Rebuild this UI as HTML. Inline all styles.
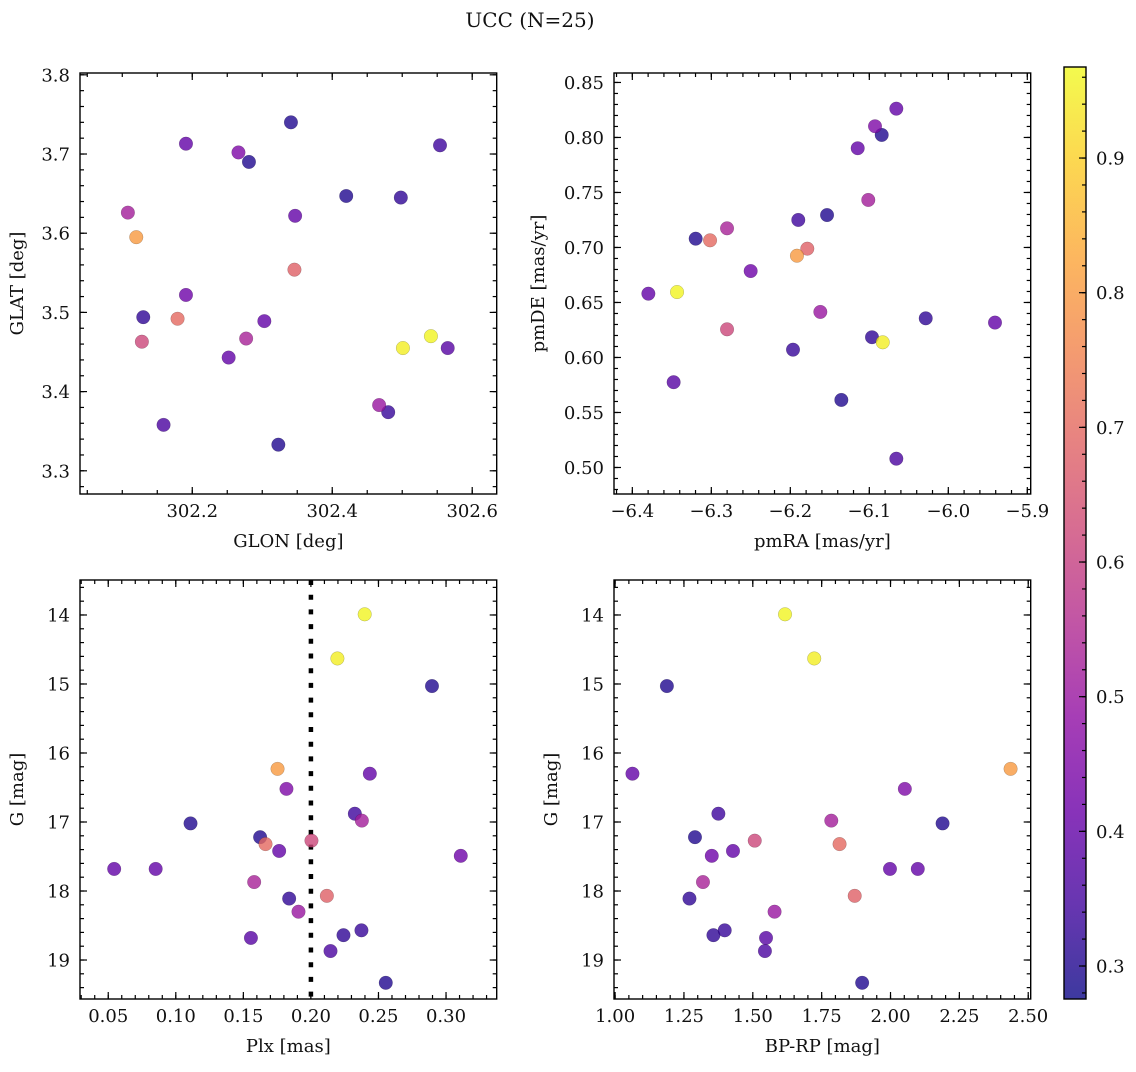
<!DOCTYPE html>
<html><head><meta charset="utf-8">
<style>
html,body{margin:0;padding:0;background:#fff;}
svg text{font-family:"DejaVu Serif","Liberation Serif",serif;fill:#111;}
</style></head>
<body>
<svg id="fig" width="1136" height="1067" viewBox="0 0 1136 1067" xmlns="http://www.w3.org/2000/svg">
<defs>
<linearGradient id="plasmaGrad" x1="0" y1="1" x2="0" y2="0"></linearGradient>
</defs>
<text x="530" y="27" font-size="20" text-anchor="middle">UCC (N=25)</text>
</svg>
<script>
// ---- data (one entry per star) ----
const glon = [302.541,302.501,302.341,302.120,302.191,302.266,302.281,302.554,302.108,302.420,302.179,302.128,302.347,302.191,302.303,302.252,302.277,302.346,302.498,302.467,302.565,302.130,302.480,302.159,302.323];
const glat = [3.470,3.455,3.740,3.595,3.713,3.702,3.690,3.711,3.626,3.647,3.492,3.463,3.622,3.522,3.489,3.443,3.467,3.554,3.645,3.383,3.455,3.494,3.374,3.358,3.333];
const pmra = [-6.3434,-6.0830,-6.0843,-6.1916,-6.0658,-6.0928,-6.1535,-6.1899,-6.1013,-6.3198,-6.3016,-6.2801,-6.1147,-6.2502,-6.3797,-5.9409,-6.2801,-6.1785,-6.0286,-6.1620,-6.3477,-6.0966,-6.1966,-6.0658,-6.1354];
const pmde = [0.6595,0.6138,0.8023,0.6925,0.8262,0.8102,0.7295,0.7250,0.7432,0.7080,0.7065,0.6256,0.7902,0.6786,0.6580,0.6317,0.7174,0.6989,0.6356,0.6414,0.5775,0.6184,0.6071,0.5080,0.5614];
const plx = [0.2398,0.2196,0.2896,0.1753,0.2436,0.1819,0.1109,0.2325,0.2377,0.1624,0.1664,0.2004,0.1765,0.3109,0.0544,0.0851,0.1580,0.2118,0.1839,0.1908,0.1556,0.2241,0.2374,0.2145,0.2554];
const gmag = [13.99,14.63,15.03,16.23,16.30,16.52,17.02,16.88,16.98,17.22,17.32,17.27,17.42,17.49,17.68,17.68,17.87,18.07,18.11,18.30,18.68,18.64,18.57,18.87,19.33];
const bprp = [1.617,1.723,1.188,2.436,1.063,2.052,2.189,1.375,1.785,1.290,1.815,1.507,1.428,1.351,1.998,2.099,1.319,1.870,1.270,1.579,1.548,1.357,1.398,1.544,1.897];
const cval = [0.96,0.95,0.30,0.80,0.40,0.45,0.30,0.34,0.52,0.30,0.70,0.62,0.40,0.42,0.40,0.40,0.53,0.68,0.32,0.50,0.38,0.32,0.33,0.36,0.30];
const plxMean = [0.2];
const cbTicks = [0.3,0.4,0.5,0.6,0.7,0.8,0.9];

const NS="http://www.w3.org/2000/svg";
const svg=document.getElementById('fig');
function mk(tag,attrs,parent){const e=document.createElementNS(NS,tag);for(const k in attrs)e.setAttribute(k,attrs[k]);(parent||svg).appendChild(e);return e;}

const plasma=[[13,8,135],[65,4,157],[106,0,168],[143,13,164],[177,42,144],[204,71,120],[225,100,98],[242,132,75],[252,166,54],[252,206,37],[240,249,33]];
const CMIN=0.2755,CMAX=0.9676;
function cmap(v){let t=(v-CMIN)/(CMAX-CMIN);t=Math.max(0,Math.min(1,t));const f=t*10;const i=Math.min(9,Math.floor(f));const r=f-i;const a=plasma[i],b=plasma[i+1];
 return 'rgb('+[0,1,2].map(k=>Math.round(a[k]+(b[k]-a[k])*r)).join(',')+')';}

function fmt(v,d){const s=v.toFixed(d);return s.replace('-','\u2212');}
const FS=18;

function panel(o){
  const g=mk('g',{});
  
  
  const sx=v=>o.x0+(v-o.xmin)/(o.xmax-o.xmin)*(o.x1-o.x0);
  const sy=o.yinv? (v=>o.y0+(v-o.ymin)/(o.ymax-o.ymin)*(o.y1-o.y0)) : (v=>o.y1-(v-o.ymin)/(o.ymax-o.ymin)*(o.y1-o.y0));
  const eps=1e-9;
  function ticksX(step,len,major){
    const start=Math.ceil((o.xmin)/step-eps);
    for(let k=start;k*step<=o.xmax+eps;k++){const v=k*step;const X=sx(v);
      const t1=mk('line',{x1:X,x2:X,y1:o.y1,y2:o.y1-len,stroke:'#000','stroke-width':1.2},g);
      
      const t2=mk('line',{x1:X,x2:X,y1:o.y0,y2:o.y0+len,stroke:'#000','stroke-width':1.2},g);
      
      if(major){const tl=mk('text',{x:X,y:o.y1+23,'font-size':FS,'text-anchor':'middle'},g);tl.textContent=fmt(v,o.xd);
        }
    }
  }
  function ticksY(step,len,major){
    const start=Math.ceil((o.ymin)/step-eps);
    for(let k=start;k*step<=o.ymax+eps;k++){const v=k*step;const Y=sy(v);
      const t1=mk('line',{x1:o.x0,x2:o.x0+len,y1:Y,y2:Y,stroke:'#000','stroke-width':1.2},g);
      
      const t2=mk('line',{x1:o.x1,x2:o.x1-len,y1:Y,y2:Y,stroke:'#000','stroke-width':1.2},g);
      
      if(major){const tl=mk('text',{x:o.x0-10,y:Y+6.5,'font-size':FS,'text-anchor':'end'},g);tl.textContent=fmt(v,o.yd);
        }
    }
  }
  ticksX(o.xmin_step,4,false);ticksX(o.xmaj,7,true);
  ticksY(o.ymin_step,4,false);ticksY(o.ymaj,7,true);
  if(o.vline!==undefined){
    const X=sx(o.vline);
    const vl=mk('line',{x1:X,x2:X,y1:o.y0,y2:o.y1,stroke:'#000','stroke-width':4.5,'stroke-dasharray':'5 9.7'},g);
    
  }
  const order=o.xs.map((_,i)=>i).sort((a,b)=>cval[a]-cval[b]);
  for(const i of order){
    const c=mk('circle',{cx:sx(o.xs[i]),cy:sy(o.ys[i]),r:6.8,fill:cmap(cval[i]),'fill-opacity':0.8,stroke:'rgba(0,0,0,0.35)','stroke-width':0.4},g);
    
    
  }
  const fr=mk('rect',{x:o.x0,y:o.y0,width:o.x1-o.x0,height:o.y1-o.y0,fill:'none',stroke:'#000','stroke-width':1.4},g);
  
  const xl=mk('text',{x:(o.x0+o.x1)/2,y:o.y1+53,'font-size':FS,'text-anchor':'middle'},g);xl.textContent=o.xlabel;
  
  const yx=o.x0-o.ylabOff, yy=(o.y0+o.y1)/2;
  const yl=mk('text',{x:yx,y:yy,'font-size':FS,'text-anchor':'middle',transform:'rotate(-90 '+yx+' '+yy+')'},g);yl.textContent=o.ylabel;
  
}

panel({name:'glon-glat-panel',x0:80,x1:496.7,y0:73,y1:494,xmin:302.0396,xmax:302.635,ymin:3.2707,ymax:3.8023,
  xmaj:0.2,xmin_step:0.05,ymaj:0.1,ymin_step:0.02,xd:1,yd:1,xs:glon,ys:glat,xlabel:'GLON [deg]',ylabel:'GLAT [deg]',ylabOff:57});
panel({name:'pm-panel',x0:614,x1:1030.7,y0:73,y1:494,xmin:-6.4232,xmax:-5.8957,ymin:0.4759,ymax:0.8586,
  xmaj:0.1,xmin_step:0.02,ymaj:0.05,ymin_step:0.01,xd:1,yd:2,xs:pmra,ys:pmde,xlabel:'pmRA [mas/yr]',ylabel:'pmDE [mas/yr]',ylabOff:70});
panel({name:'plx-g-panel',x0:80,x1:496.7,y0:580,y1:999,xmin:0.0291,xmax:0.3375,ymin:13.493,ymax:19.565,yinv:true,
  xmaj:0.05,xmin_step:0.01,ymaj:1,ymin_step:0.2,xd:2,yd:0,xs:plx,ys:gmag,xlabel:'Plx [mas]',ylabel:'G [mag]',ylabOff:57,vline:plxMean[0]});
panel({name:'bprp-g-panel',x0:614,x1:1030.7,y0:580,y1:999,xmin:0.996,xmax:2.509,ymin:13.493,ymax:19.565,yinv:true,
  xmaj:0.25,xmin_step:0.05,ymaj:1,ymin_step:0.2,xd:2,yd:0,xs:bprp,ys:gmag,xlabel:'BP-RP [mag]',ylabel:'G [mag]',ylabOff:57});

// colorbar
const grad=document.getElementById('plasmaGrad');
plasma.forEach((c,i)=>{mk('stop',{offset:(i/10).toFixed(2),'stop-color':'rgb('+c.join(',')+')','stop-opacity':0.8},grad);});
const cb=mk('g',{});


const CBX=1064,CBW=22,CBY0=67,CBY1=999;
mk('rect',{x:CBX,y:CBY0,width:CBW,height:CBY1-CBY0,fill:'url(#plasmaGrad)'},cb);
const cy=v=>CBY1-(v-CMIN)/(CMAX-CMIN)*(CBY1-CBY0);
for(let k=Math.ceil(CMIN/0.02);k*0.02<=CMAX;k++){const Y=cy(k*0.02);
  const t=mk('line',{x1:CBX+CBW,x2:CBX+CBW-4,y1:Y,y2:Y,stroke:'#000','stroke-width':1.2},cb);
  }
cbTicks.forEach(v=>{const Y=cy(v);
  const t=mk('line',{x1:CBX+CBW,x2:CBX+CBW-7,y1:Y,y2:Y,stroke:'#000','stroke-width':1.2},cb);
  
  const l=mk('text',{x:CBX+CBW+10,y:Y+6.5,'font-size':FS},cb);l.textContent=v.toFixed(1);
  });
mk('rect',{x:CBX,y:CBY0,width:CBW,height:CBY1-CBY0,fill:'none',stroke:'#000','stroke-width':1.4},cb);
</script>
</body></html>
